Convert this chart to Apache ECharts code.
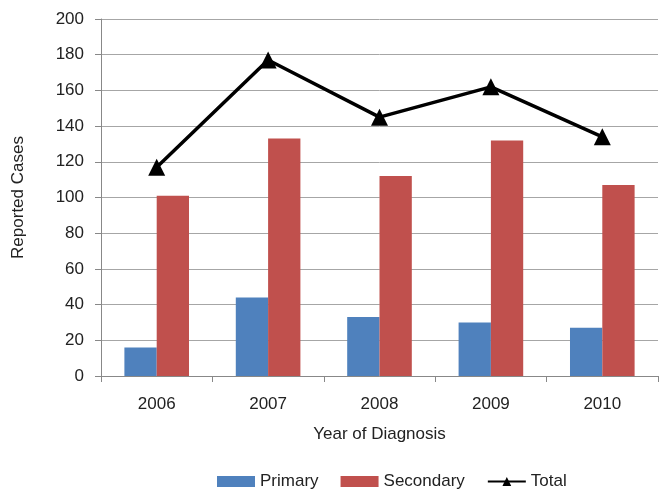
<!DOCTYPE html>
<html><head><meta charset="utf-8">
<script src="https://cdn.jsdelivr.net/npm/echarts@6/dist/echarts.min.js"></script>
<style>html,body{margin:0;padding:0;background:#fff}#c{width:660px;height:496px}</style>
</head><body><div id="c"></div>
<script>
const categories = ['2006','2007','2008','2009','2010'];
const primary = [16, 44, 33, 30, 27];
const secondary = [101, 133, 112, 132, 107];
const total = [117, 177, 145, 162, 134];
const yTicks = {min: 0, max: 200, interval: 20};

const font = 'Liberation Sans, Arial, sans-serif';
const chart = echarts.init(document.getElementById('c'), null, {renderer: 'canvas'});
chart.setOption({
  animation: false,
  textStyle: {fontFamily: font},
  grid: {left: 101, right: 2, top: 19, bottom: 120},
  legend: {
    bottom: 1, left: 212, itemGap: 22, itemWidth: 38, itemHeight: 11, itemTextGap: 4,
    textStyle: {fontSize: 17, color: '#222', fontFamily: font},
    data: [
      {name: 'Primary', icon: 'rect'},
      {name: 'Secondary', icon: 'rect'},
      {name: 'Total'}
    ]
  },
  xAxis: {
    type: 'category', data: categories,
    name: 'Year of Diagnosis', nameLocation: 'middle', nameGap: 50,
    nameTextStyle: {fontSize: 17, color: '#222'},
    axisLine: {lineStyle: {color: '#888'}},
    axisTick: {show: true, length: 6, lineStyle: {color: '#888'}},
    axisLabel: {fontSize: 17, color: '#222', margin: 20}
  },
  yAxis: {
    type: 'value', min: yTicks.min, max: yTicks.max, interval: yTicks.interval,
    name: 'Reported Cases', nameLocation: 'middle', nameGap: 74, nameRotate: 90,
    nameTextStyle: {fontSize: 17, color: '#222'},
    axisLine: {show: true, lineStyle: {color: '#888'}},
    axisTick: {show: true, length: 6, lineStyle: {color: '#888'}},
    axisLabel: {fontSize: 17, color: '#222', margin: 17},
    splitLine: {lineStyle: {color: '#a6a6a6'}}
  },
  series: [
    {name: 'Primary', type: 'bar', data: primary, barGap: '0%', barCategoryGap: '42%',
     itemStyle: {color: '#4f81bd'}},
    {name: 'Secondary', type: 'bar', data: secondary, barGap: '0%', barCategoryGap: '42%',
     itemStyle: {color: '#c0504d'}},
    {name: 'Total', type: 'line', data: total, symbol: 'triangle', symbolSize: 17,
     lineStyle: {color: '#000', width: 3.5}, itemStyle: {color: '#000'}}
  ]
});
</script></body></html>
